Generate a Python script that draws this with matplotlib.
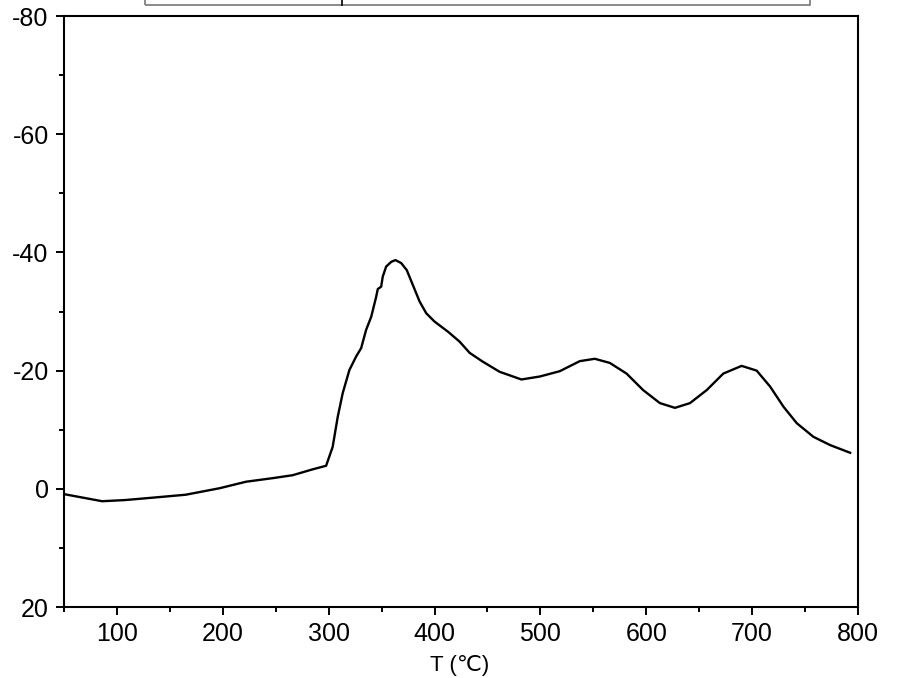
import matplotlib
matplotlib.use("Agg")
import matplotlib.pyplot as plt
from matplotlib.patches import Rectangle
from matplotlib.lines import Line2D

plt.rcParams['font.family'] = ['Liberation Sans', 'DejaVu Sans']
plt.rcParams['axes.unicode_minus'] = False

# temperature (C) and signal
temp = [50, 86, 108, 140, 165, 197, 222, 247, 266, 285, 297.6, 303.8, 308.6,
        313.3, 319.6, 326.0, 330.7, 335.4, 340.2, 344.9, 346.4, 349.6, 351.1,
        354.3, 359.1, 363.1, 368.5, 373.8, 379.5, 385.9, 392.2, 400.0, 412.6,
        423.7, 433.2, 445.7, 461.5, 482.1, 499.4, 518.3, 537.2, 551.4, 565.6,
        581.4, 597.1, 612.9, 627.1, 641.3, 657.1, 672.8, 690.1, 704.3, 717.0,
        729.6, 742.2, 757.9, 773.7, 792.6]
signal = [0.9, 2.1, 1.9, 1.4, 1.0, -0.1, -1.2, -1.8, -2.3, -3.3, -3.9, -7.1,
          -12.2, -16.2, -20.1, -22.4, -23.8, -26.9, -29.1, -32.5, -33.8,
          -34.2, -35.9, -37.6, -38.4, -38.7, -38.2, -37.0, -34.5, -31.7,
          -29.7, -28.3, -26.6, -24.9, -23.0, -21.5, -19.8, -18.5, -19.0,
          -19.9, -21.6, -22.0, -21.3, -19.5, -16.7, -14.5, -13.7, -14.5,
          -16.7, -19.5, -20.8, -20.0, -17.3, -13.9, -11.1, -8.8, -7.4, -6.1]

x_ticks = [100, 200, 300, 400, 500, 600, 700, 800]
y_ticks = [20, 0, -20, -40, -60, -80]

fig = plt.figure(figsize=(9, 6.78), dpi=100)
ax = fig.add_axes([0.0711, 0.1047, 0.8822, 0.8717])

ax.plot(temp, signal, color='black', lw=1.7, solid_joinstyle='round')

ax.set_xlim(50, 800)
ax.set_ylim(20, -80)
ax.set_xticks(x_ticks)
ax.set_xticks(range(50, 801, 50), minor=True)
ax.set_yticks(y_ticks)
ax.set_yticks(range(-80, 21, 10), minor=True)

for s in ax.spines.values():
    s.set_linewidth(1.5)
ax.tick_params(which='major', direction='out', length=6, width=1.4,
               labelsize=18, pad=5)
ax.tick_params(which='minor', direction='out', length=3.5, width=1.4)

# cut-off table box above the plot
fig.add_artist(Rectangle((145 / 900, 1 - 5 / 678), (810 - 145) / 900, 0.02,
                         transform=fig.transFigure, fill=False,
                         edgecolor='#777777', lw=1.2, clip_on=False))
fig.add_artist(Line2D([342 / 900, 342 / 900], [1 - 5 / 678, 1.0],
                      transform=fig.transFigure, color='black', lw=1.2))

fig.text(460 / 900, 2 / 678, "T (℃)", ha='center', va='bottom',
         fontsize=16)

fig.savefig("out.png", dpi=100)
